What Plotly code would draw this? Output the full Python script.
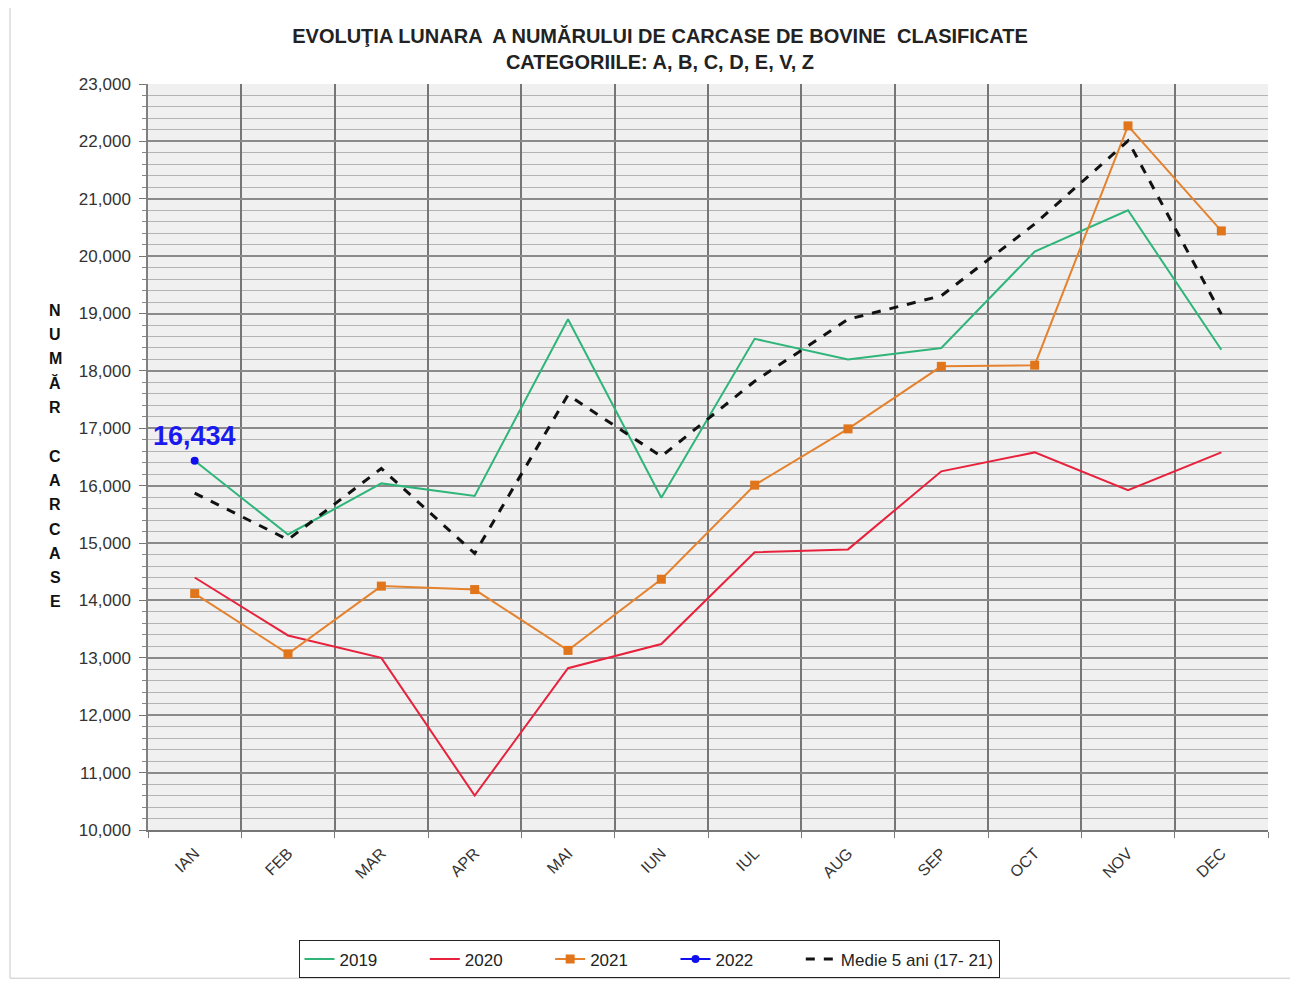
import plotly.graph_objects as go

months = ["IAN", "FEB", "MAR", "APR", "MAI", "IUN", "IUL", "AUG", "SEP", "OCT", "NOV", "DEC"]
v2019 = [16434, 15150, 16040, 15820, 18900, 15790, 18560, 18200, 18400, 20080, 20800, 18370]
v2020 = [14400, 13390, 13000, 10600, 12820, 13240, 14840, 14890, 16250, 16580, 15920, 16580]
v2021 = [14120, 13070, 14250, 14190, 13130, 14370, 16010, 16990, 18080, 18100, 22270, 20440]
v2022 = [16434]
medie = [15870, 15060, 16300, 14820, 17580, 16510, 17820, 18900, 19310, 20560, 22010, 18990]

series_names = ["2019", "2020", "2021", "2022", "Medie 5 ani (17- 21)"]
title_text = "EVOLUŢIA LUNARA  A NUMĂRULUI DE CARCASE DE BOVINE  CLASIFICATE<br>CATEGORIILE: A, B, C, D, E, V, Z"
ylabel_letters = ["N", "U", "M", "Ă", "R", "", "C", "A", "R", "C", "A", "S", "E"]

FONT = "Liberation Sans, Arial, sans-serif"
OFF = 8  # browser body margin
PAD = "\u00a0" * 9

fig = go.Figure()
fig.add_trace(go.Scatter(x=months, y=v2019, name=series_names[0] + PAD, mode="lines",
                         line=dict(color="#2fb57a", width=2)))
fig.add_trace(go.Scatter(x=months, y=v2020, name=series_names[1] + PAD, mode="lines",
                         line=dict(color="#e8213c", width=2)))
fig.add_trace(go.Scatter(x=months, y=v2021, name=series_names[2] + PAD, mode="lines+markers",
                         line=dict(color="#e5822e", width=2),
                         marker=dict(symbol="square", size=9, color="#e0751c")))
fig.add_trace(go.Scatter(x=months[:len(v2022)], y=v2022, name=series_names[3] + PAD,
                         mode="lines+markers",
                         line=dict(color="#1010ee", width=2),
                         marker=dict(symbol="circle", size=8, color="#1010ee")))
fig.add_trace(go.Scatter(x=months, y=medie, name=series_names[4], mode="lines",
                         line=dict(color="#111111", width=3, dash="dash")))

# data label for 2022
fig.add_annotation(x=months[0], y=v2022[0], text=f"<b>{v2022[0]:,}</b>", showarrow=False,
                   yshift=25, font=dict(family=FONT, size=27, color="#1a1aee"))

# vertical stacked y-axis title
top_px, step_px = 313, 24.6
for i, ch in enumerate(ylabel_letters):
    if not ch:
        continue
    py = top_px + i * step_px
    fig.add_annotation(xref="paper", yref="paper", x=(55 - 148) / 1120, y=1 - (py - 84) / 755,
                       text=f"<b>{ch}</b>", showarrow=False, xanchor="center", yanchor="middle",
                       font=dict(family=FONT, size=16, color="#111"))

# outer frame
fig.add_shape(type="rect", xref="paper", yref="paper",
              x0=(10 - 148) / 1120, x1=(1296 - 148) / 1120,
              y0=(839 - 989) / 755, y1=(839 - 2) / 755,
              line=dict(color="#c8c8c8", width=1), layer="below")

fig.update_layout(
    width=1298 - OFF, height=991 - OFF,
    margin=dict(l=148 - OFF, r=30, t=84 - OFF, b=152),
    paper_bgcolor="white",
    plot_bgcolor="#f0f0f0",
    title=dict(text=f"<b>{title_text}</b>", x=(660 - OFF) / (1298 - OFF), xanchor="center",
               y=1 - (43 - OFF) / (991 - OFF), yanchor="top",
               font=dict(family=FONT, size=20, color="#222")),
    font=dict(family=FONT, size=14, color="#333"),
    showlegend=True,
    legend=dict(orientation="h", x=(649 - 148) / 1120, xanchor="center",
                y=(839 - 970) / 755, yanchor="middle",
                bordercolor="#222", borderwidth=1, bgcolor="white",
                font=dict(family=FONT, size=17, color="#222"),
                tracegroupgap=0),
    xaxis=dict(type="category", tickson="boundaries", range=[-0.5, 11.5],
               showgrid=True, gridcolor="#767676", gridwidth=1.5,
               ticks="outside", ticklen=6, tickcolor="#767676",
               tickangle=-45, tickfont=dict(family=FONT, size=16, color="#333"),
               ticklabelstandoff=6,
               showline=True, linecolor="#767676", linewidth=1.5, mirror=False,
               zeroline=False),
    yaxis=dict(range=[10000, 23000], dtick=1000, tickformat=",d",
               showgrid=True, gridcolor="#8a8a8a", gridwidth=2,
               ticks="outside", ticklen=7, tickcolor="#777",
               ticklabelstandoff=5,
               showline=True, linecolor="#808080", linewidth=1.5,
               tickfont=dict(family=FONT, size=17, color="#333"),
               zeroline=False,
               minor=dict(dtick=200, showgrid=True, gridcolor="#b4b4b4", gridwidth=1,
                          ticks="outside", ticklen=4, tickcolor="#888")),
)

fig.write_html("out.html")
